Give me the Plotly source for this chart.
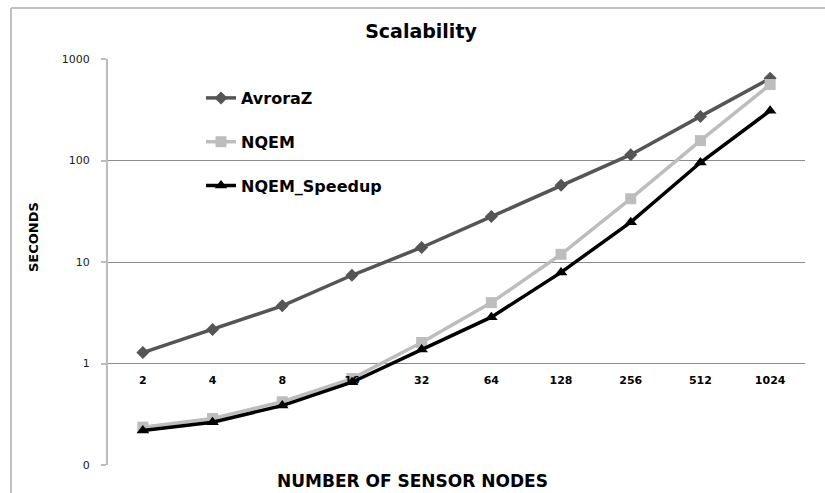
import plotly.graph_objects as go

nodes = ["2", "4", "8", "16", "32", "64", "128", "256", "512", "1024"]
avroraz = [1.28, 2.16, 3.7, 7.4, 13.9, 28, 57, 114, 272, 645]
nqem = [0.236, 0.287, 0.42, 0.71, 1.61, 3.98, 11.9, 42, 157, 561]
nqem_speedup = [0.219, 0.264, 0.385, 0.654, 1.37, 2.86, 7.9, 24.7, 95.5, 310]

y_tickvals = [0.1, 1, 10, 100, 1000]
y_ticktext = ["0", "1", "10", "100", "1000"]

W, H = 825, 493
L, R, T, B = 108, 20, 59, 28
PW, PH = W - L - R, H - T - B

def px_x(p):
    return (p - L) / PW

def px_y(p):
    return (H - B - p) / PH

BOLD = "DejaVu Sans"

fig = go.Figure()
fig.add_trace(go.Scatter(x=nodes, y=avroraz, name="AvroraZ", mode="lines+markers",
                         line=dict(color="#555555", width=3.5),
                         marker=dict(symbol="diamond", size=10, color="#555555"),
                         legendgroup="a"))
fig.add_trace(go.Scatter(x=nodes, y=nqem, name="NQEM", mode="lines+markers",
                         line=dict(color="#bdbdbd", width=3.5),
                         marker=dict(symbol="square", size=11, color="#bdbdbd"),
                         legendgroup="b"))
fig.add_trace(go.Scatter(x=nodes, y=nqem_speedup, name="NQEM_Speedup", mode="lines+markers",
                         line=dict(color="#000000", width=3.5),
                         marker=dict(symbol="triangle-up", size=11, color="#000000"),
                         legendgroup="c"))

fig.update_layout(
    width=W, height=H,
    margin=dict(l=L, r=R, t=T, b=B, autoexpand=False),
    paper_bgcolor="white", plot_bgcolor="white",
    font=dict(family=BOLD, color="#000000"),
    title=dict(text="<b>Scalability</b>", x=421 / W, xanchor="center",
               y=1 - 31 / H, yanchor="middle", yref="container",
               font=dict(family=BOLD, size=19, color="#000000")),
    showlegend=True,
    legend=dict(x=px_x(201), y=px_y(81), xref="paper", yref="paper",
                xanchor="left", yanchor="top", bgcolor="rgba(0,0,0,0)",
                font=dict(family=BOLD, size=16, color="#000000", weight="bold"),
                tracegroupgap=20, itemwidth=30),
    xaxis=dict(type="category", anchor="free", position=0.25, automargin=False,
               showline=False, showgrid=False, zeroline=False,
               ticks="outside", ticklen=6, tickcolor="rgba(0,0,0,0)",
               tickfont=dict(family=BOLD, size=11, color="#000000", weight="bold"),
               range=[-0.5, 9.5]),
    xaxis2=dict(overlaying="x", anchor="y", side="bottom", range=[0, 1], automargin=False,
                showline=True, linecolor="#c8c8c8", linewidth=2,
                showticklabels=False, showgrid=False, zeroline=False, ticks=""),
    yaxis=dict(type="log", range=[-1, 3], tickvals=y_tickvals, ticktext=y_ticktext,
               automargin=False,
               showgrid=True, gridcolor="#8c8c8c", gridwidth=1,
               showline=True, linecolor="#bdbdbd", linewidth=2,
               ticks="outside", ticklen=5, tickcolor="#bdbdbd", tickwidth=2,
               ticklabelstandoff=9,
               tickfont=dict(family=BOLD, size=11, color="#1a1a1a"),
               zeroline=False),
    annotations=[
        dict(text="<b>NUMBER OF SENSOR NODES</b>", xref="paper", yref="paper",
             x=px_x(412), y=px_y(481), showarrow=False, xanchor="center", yanchor="middle",
             font=dict(family=BOLD, size=17, color="#000000")),
        dict(text="<b>SECONDS</b>", xref="paper", yref="paper",
             x=px_x(33), y=px_y(237), showarrow=False, textangle=-90,
             xanchor="center", yanchor="middle",
             font=dict(family=BOLD, size=13, color="#000000")),
    ],
    shapes=[
        dict(type="line", xref="paper", yref="paper", x0=px_x(11), x1=px_x(11),
             y0=px_y(8), y1=px_y(493), line=dict(color="#c0c0c0", width=2)),
        dict(type="line", xref="paper", yref="paper", x0=px_x(11), x1=px_x(825),
             y0=px_y(8), y1=px_y(8), line=dict(color="#c0c0c0", width=2)),
    ],
)

fig.write_html("out.html")
